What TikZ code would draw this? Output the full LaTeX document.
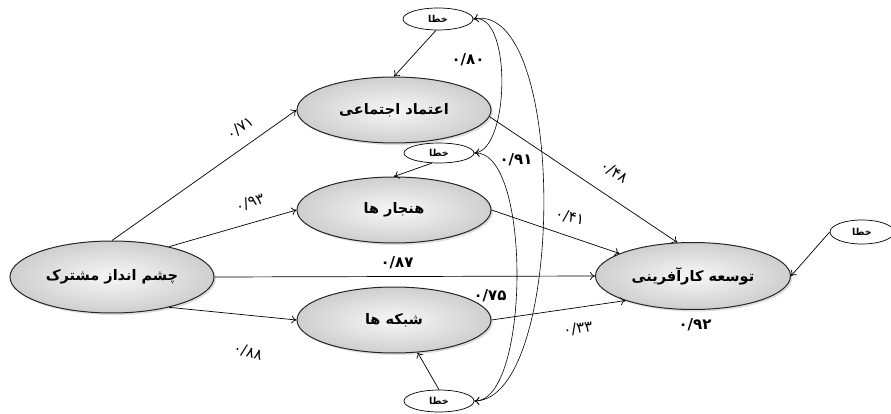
\documentclass[tikz,border=0pt]{standalone}
\usepackage{fontspec}
\usetikzlibrary{shapes.geometric,shadows,arrows.meta}
\newfontfamily\arabicfont[Script=Arabic]{DejaVu Sans}
\TeXXeTstate=1
\begin{document}
\begin{tikzpicture}[x=1pt,y=-1pt,
 mainbox/.style={ellipse, draw=black!85, line width=1pt, minimum width=194pt, minimum height=66pt, inner sep=0pt, inner color=gray!6, outer color=gray!38, drop shadow={opacity=0.25, shadow xshift=2pt, shadow yshift=-2pt}, font=\arabicfont\bfseries\fontsize{14.5}{16}\selectfont},
 errbox/.style={ellipse, draw, line width=0.7pt, minimum width=70pt, minimum height=22pt, inner sep=0pt, fill=white, font=\arabicfont\bfseries\fontsize{9.5}{10}\selectfont},
 link/.style={draw, line width=0.7pt, -{To[length=5pt,width=8pt]}},
 corr/.style={draw, line width=0.6pt, {To[length=5pt,width=8pt]}-{To[length=5pt,width=8pt]}},
 coef/.style={font=\arabicfont\fontsize{15}{17}\selectfont},
 coefb/.style={font=\arabicfont\bfseries\fontsize{15}{17}\selectfont}]
\useasboundingbox (0,0) rectangle (891,414);
% main nodes
\node[mainbox, minimum width=204pt, minimum height=72pt] (src) at (112,277) {\beginR چشم انداز مشترک\endR};
\node[mainbox] (trust) at (394,110) {\beginR اعتماد اجتماعی\endR};
\node[mainbox] (norm) at (394,210) {\beginR هنجار ها\endR};
\node[mainbox] (net) at (394,320) {\beginR شبکه ها\endR};
\node[mainbox, minimum width=195pt, minimum height=67pt] (tgt) at (693,276) {\beginR توسعه کارآفرینی\endR};
% error nodes
\node[errbox] (e1) at (438,19) {\beginR خطا\endR};
\node[errbox, minimum height=20pt] (e2) at (439,153) {\beginR خطا\endR};
\node[errbox] (e3) at (439,401) {\beginR خطا\endR};
\node[errbox, minimum width=64pt, minimum height=24pt] (e4) at (862,232) {\beginR خطا\endR};
% paths
\path[link] (src.north) -- (trust.west);
\path[link] (src.28) -- (norm.west);
\path[link] (src.-28) -- (net.west);
\path[link] (src.east) -- (tgt.west);
\path[link] (trust.-4) -- (tgt.115);
\path[link] (norm.east) -- (tgt.163);
\path[link] (net.east) -- (tgt.200);
\path[link] (e4.west) -- (tgt.east);
\path[link] (e1.-100) -- (trust.north);
\path[link] (e2.-125) -- (norm.north);
\path[link] (e3.north) -- (net.-54);
% correlations
\path[corr] (e1.east) .. controls (512,12) and (510,150) .. (e2.east);
\path[corr] (e1.east) .. controls (568,0) and (566,400) .. (e3.east);
\path[corr] (e2.east) .. controls (532,150) and (530,402) .. (e3.east);
% coefficients
\node[coef, rotate=35] (c1) at (240,128) {۰/۷۱};
\node[coef, rotate=20] (c2) at (250,203) {۰/۹۳};
\node[coef, rotate=-15] (c3) at (248,352) {۰/۸۸};
\node[coef, rotate=-33] (c4) at (614,172) {۰/۴۸};
\node[coef, rotate=-12] (c5) at (570,217) {۰/۴۱};
\node[coef, rotate=8] (c6) at (578,329) {۰/۳۳};
\node[coefb] (c7) at (397,263) {۰/۸۷};
\node[coefb] (c8) at (490,296) {۰/۷۵};
\node[coefb] (c9) at (516,160) {۰/۹۱};
\node[coefb] (c10) at (468,60) {۰/۸۰};
\node[coefb] (c11) at (695,325) {۰/۹۲};
\end{tikzpicture}
\end{document}
